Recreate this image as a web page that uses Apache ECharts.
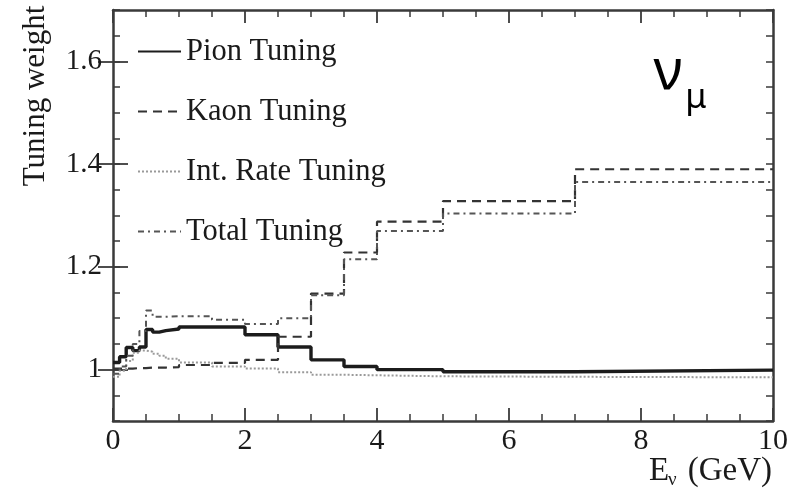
<!DOCTYPE html>
<html>
<head>
<meta charset="utf-8">
<script src="https://cdn.jsdelivr.net/npm/echarts@6/dist/echarts.min.js"></script>
<style>
html, body { margin: 0; padding: 0; background: #fff; }
#chart { width: 795px; height: 490px; }
</style>
</head>
<body>
<div id="chart"></div>
<script>
// bin edges in GeV, the four tunings are step histograms over them
var binEdges = [0, 0.1, 0.2, 0.3, 0.4, 0.5, 0.6, 0.7, 0.8, 1.0, 1.5, 2.0, 2.5, 3.0, 3.5, 4.0, 5.0, 7.0, 10.0];
var pionTuning = [1.014, 1.025, 1.043, 1.037, 1.044, 1.078, 1.073, 1.076, 1.079, 1.083, 1.083, 1.068, 1.044, 1.019, 1.006, 1.0, 0.996, 0.999];
var kaonTuning = [1.002, 1.002, 1.002, 1.003, 1.003, 1.004, 1.004, 1.004, 1.005, 1.009, 1.013, 1.019, 1.064, 1.148, 1.228, 1.288, 1.328, 1.39];
var intRateTuning = [0.986, 0.998, 1.017, 1.033, 1.037, 1.035, 1.031, 1.027, 1.021, 1.014, 1.006, 1.002, 0.995, 0.99, 0.989, 0.987, 0.986, 0.985];
var totalTuning = [0.992, 1.006, 1.027, 1.05, 1.075, 1.115, 1.103, 1.103, 1.104, 1.104, 1.097, 1.089, 1.1, 1.145, 1.215, 1.27, 1.304, 1.365];
var xTickLabels = [0, 2, 4, 6, 8, 10];
var yTickLabels = [1, 1.2, 1.4, 1.6];

var serif = 'Liberation Serif';

// histogram -> points for step:'end'
function stepData(values) {
    var pts = [];
    for (var i = 0; i < values.length; i++) {
        pts.push([binEdges[i], values[i]]);
    }
    pts.push([binEdges[binEdges.length - 1], values[values.length - 1]]);
    return pts;
}

function makeSeries(name, values, color, width, dash) {
    return {
        name: name,
        type: 'line',
        step: 'end',
        symbol: 'none',
        data: stepData(values),
        lineStyle: { color: color, width: width, type: dash },
        itemStyle: { color: color },
        z: 3
    };
}

var frameColor = '#3a3a3a';

// y axis pieces: short ticks every 0.05, long ticks at labelled values
function yAxisShort(pos) {
    return {
        type: 'value', position: pos, min: 0.9, max: 1.7, interval: 0.05,
        axisLine: { show: true, onZero: false, lineStyle: { color: frameColor, width: 2.5 } },
        axisTick: { show: true, inside: true, length: 7, lineStyle: { color: frameColor, width: 1.5 } },
        axisLabel: pos === 'left' ? {
            show: true, customValues: yTickLabels, margin: 11,
            fontFamily: serif, fontSize: 29, color: '#1a1a1a'
        } : { show: false },
        splitLine: { show: false }
    };
}
function yAxisLong(pos) {
    return {
        type: 'value', position: pos, min: 0.9, max: 1.7,
        axisLine: { show: false },
        axisTick: { show: true, inside: true, length: 15, customValues: yTickLabels, lineStyle: { color: frameColor, width: 1.8 } },
        axisLabel: { show: false },
        splitLine: { show: false }
    };
}
function xAxisDef(pos) {
    return {
        type: 'value', position: pos, min: 0, max: 10, interval: 2,
        axisLine: { show: true, onZero: false, lineStyle: { color: frameColor, width: 2.5 } },
        axisTick: { show: true, inside: true, length: 13, lineStyle: { color: frameColor, width: 1.8 } },
        minorTick: { show: true, splitNumber: 4, length: 7, lineStyle: { color: frameColor, width: 1.5 } },
        axisLabel: pos === 'bottom' ? {
            show: true, customValues: xTickLabels, margin: 5,
            fontFamily: serif, fontSize: 30, color: '#1a1a1a'
        } : { show: false },
        splitLine: { show: false }
    };
}

var myChart = echarts.init(document.getElementById('chart'));
var option = {
    backgroundColor: '#fff',
    animation: false,
    grid: { left: 113, right: 22, top: 10, bottom: 69 },
    xAxis: [xAxisDef('bottom'), xAxisDef('top')],
    yAxis: [yAxisShort('left'), yAxisLong('left'), yAxisShort('right'), yAxisLong('right')],
    legend: {
        orient: 'vertical',
        left: 137, top: 36, padding: 0,
        itemWidth: 43, itemHeight: 28, itemGap: 29,
        itemStyle: { opacity: 0 },
        textStyle: { fontFamily: serif, fontSize: 30.5, color: '#1a1a1a' },
        data: ['Pion Tuning', 'Kaon Tuning', 'Int. Rate Tuning', 'Total Tuning']
    },
    graphic: [
        {
            type: 'text', x: 36, y: 96, rotation: Math.PI / 2,
            style: { text: 'Tuning weight', fontFamily: serif, fontSize: 31, fill: '#1a1a1a', textAlign: 'center', textVerticalAlign: 'middle' }
        },
        {
            type: 'text', x: 772, y: 471,
            style: { text: '(GeV)', fontFamily: serif, fontSize: 33, fill: '#1a1a1a', textAlign: 'right', textVerticalAlign: 'middle' }
        },
        {
            type: 'text', x: 649, y: 471,
            style: { text: 'E', fontFamily: serif, fontSize: 33, fill: '#1a1a1a', textAlign: 'left', textVerticalAlign: 'middle' }
        },
        {
            type: 'text', x: 668, y: 480,
            style: { text: 'ν', fontFamily: serif, fontSize: 19, fill: '#1a1a1a', textAlign: 'left', textVerticalAlign: 'middle' }
        },
        {
            type: 'text', x: 668, y: 73,
            style: { text: 'ν', fontFamily: 'Noto Sans', fontSize: 56, fill: '#000', textAlign: 'center', textVerticalAlign: 'middle' }
        },
        {
            type: 'text', x: 696, y: 98,
            style: { text: 'μ', fontFamily: 'Noto Sans', fontSize: 34, fill: '#000', textAlign: 'center', textVerticalAlign: 'middle' }
        }
    ],
    series: [
        makeSeries('Pion Tuning', pionTuning, '#1c1c1c', 3.4, 'solid'),
        makeSeries('Kaon Tuning', kaonTuning, '#333', 2.2, [9, 6]),
        makeSeries('Int. Rate Tuning', intRateTuning, '#9a9a9a', 2, [2, 2]),
        makeSeries('Total Tuning', totalTuning, '#555', 2, [6, 4, 2, 4])
    ]
};
myChart.setOption(option);
</script>
</body>
</html>
